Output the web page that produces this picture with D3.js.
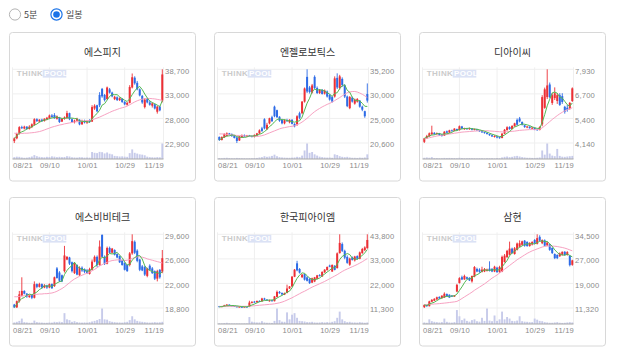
<!DOCTYPE html>
<html><head><meta charset="utf-8">
<script src="https://cdn.jsdelivr.net/npm/d3@7"></script>
<style>
html,body{margin:0;padding:0;background:#fff;}
svg{display:block;}
</style></head><body>
<svg id="c" width="618" height="355"></svg>
<script>
const dates = ["08/21","08/22","08/25","08/26","08/27","08/28","08/29","09/01","09/02","09/03","09/04","09/05","09/08","09/09","09/10","09/11","09/12","09/15","09/16","09/17","09/18","09/19","09/22","09/23","09/24","09/25","09/26","09/29","09/30","10/01","10/02","10/10","10/13","10/14","10/15","10/16","10/17","10/20","10/21","10/22","10/23","10/24","10/27","10/28","10/29","10/30","10/31","11/03","11/04","11/05","11/06","11/07","11/10","11/11","11/12","11/13","11/14","11/17","11/18","11/19"];
const dateTicks = ["08/21","09/10","10/01","10/29","11/19"];
const names = ["에스피지","엔젤로보틱스","디아이씨","에스비비테크","한국피아이엠","삼현"];
const periodOptions = ["5분","일봉"];

// [open, high, low, close]
const spgOHLC = [[23300,24100,22900,23900],[23900,25100,23700,24900],[24900,26500,24700,26300],[26300,26600,25900,26100],[26000,26600,25800,26400],[26400,26500,25700,25900],[25900,26700,25800,26400],[26300,27100,26100,26900],[26800,28200,26600,28000],[28000,28200,27400,27600],
[27500,28000,27300,27900],[27900,28100,27400,27600],[27600,28200,27500,28100],[28000,28500,27800,28300],[28200,29000,28000,28800],[28800,29100,28300,28500],[28900,29300,28100,28200],[28100,28800,27900,28600],[28400,28500,27200,27400],[27500,28300,27400,28100],
[28100,28600,27900,28400],[28200,29800,28100,29300],[29300,29400,27800,28000],[28000,28200,27200,27400],[27400,27900,27100,27700],[27700,28300,27500,28100],[27900,28000,26700,26900],[26900,27900,26800,27600],[27600,27900,27100,27300],[27300,27800,27000,27500],
[27600,28000,27200,27400],[27500,31000,27400,30600],[30300,31200,30000,30900],[31000,31100,29500,29700],[33200,33800,30600,31000],[34500,34700,32600,32900],[33200,33400,31800,32100],[32300,35000,32200,34800],[34400,34700,33500,33700],[33700,33900,32700,32900],
[32300,33000,32100,32800],[32700,32900,31900,32100],[32100,32700,31900,32500],[32400,32500,31500,31700],[31700,31900,31000,31200],[31100,31700,30900,31500],[31500,35300,31400,34900],[34800,37800,34600,37000],[36900,37200,35400,35700],[35800,36200,34200,34400],
[34400,34600,32900,33100],[33000,33200,31300,31600],[30600,32500,30300,32200],[32300,32600,31400,31600],[31600,31900,30900,31100],[30900,31600,30500,31400],[31200,31300,30100,30300],[29600,30900,29200,30700],[30700,30900,29700,29900],[32000,38700,31600,37600]];
const spgVol = [12,15,14,10,8,9,12,16,25,18,14,12,11,14,13,17,15,12,14,12,13,18,16,11,10,9,12,11,9,10,9,45,40,38,46,44,36,42,34,30,20,18,16,17,15,14,38,62,40,35,30,28,24,15,12,11,10,12,11,100];
const spgMA20 = [25000,24950,24950,24950,25000,25000,25050,25100,25150,25250,25350,25500,25700,25900,26100,26300,26450,26600,26750,26850,27000,27100,27200,27300,27400,27450,27500,27550,27650,27700,27750,27900,28050,28250,28450,28700,28950,29200,29450,29700,29900,30100,30300,30450,30600,30800,31100,31400,31700,31950,32150,32300,32400,32450,32450,32400,32350,32250,32150,32050];
const spgTicks = [22900,28000,33000,38700];

const angelOHLC = [[21800,21900,21000,21200],[21200,21900,21100,21800],[21700,22500,21600,22400],[22000,22700,21900,22500],[22500,22600,22100,22200],[22300,22500,21800,22000],[22100,22200,21500,21600],[21700,21800,20600,21000],[21100,22000,21000,21900],[21700,22300,21600,22100],
[22100,22300,21800,21900],[21900,22200,21800,22100],[22100,22200,21900,22000],[22000,22100,21700,21800],[21800,22300,21700,22200],[22100,22600,22000,22500],[22500,23300,22400,23100],[23500,23800,22800,23000],[25300,25500,23300,23500],[23300,24600,23200,24200],
[24500,25600,24300,25500],[25700,26000,24800,24900],[27800,28000,25700,25900],[27100,27200,25600,25700],[25800,25900,24800,25000],[25200,25400,24300,24500],[24500,25300,24300,25100],[25100,25400,24800,25000],[24700,25300,24500,25200],[25200,25300,24300,24400],
[24400,24500,23700,23900],[24300,26100,24000,25900],[26500,26800,25300,25600],[26500,28900,26300,28800],[28800,31600,28600,31400],[33700,35200,30500,30800],[31600,31900,30400,30700],[30600,32300,30400,32000],[33700,34000,31300,31500],[31500,31800,30300,30500],
[30500,31300,30300,31100],[31100,31300,30200,30300],[30400,31200,30200,31000],[30800,31000,29600,29800],[30100,30300,29000,29200],[29700,29900,28600,28800],[29800,33800,29600,33400],[33500,34400,31300,31600],[31500,34100,31200,33800],[33300,33600,31700,32100],
[32000,32200,29500,29800],[29800,30000,27700,27900],[27500,29900,27300,29700],[29600,29800,28600,28800],[28400,29400,28200,29200],[28800,29500,28600,29300],[29000,29100,27600,27800],[27800,28000,26900,27200],[26900,27000,25600,25900],[30300,32400,28600,29000]];
const angelVol = [6,5,7,8,6,5,5,7,6,5,5,4,5,5,6,7,10,12,18,14,16,20,28,18,12,10,9,8,8,9,10,14,12,22,55,100,40,45,30,22,15,12,10,9,10,8,30,26,18,14,12,14,10,8,8,7,9,8,10,30];
const angelMA20 = [22400,22400,22350,22300,22250,22200,22150,22100,22100,22050,22000,22000,21950,21950,21900,21900,21950,22050,22200,22400,22600,22800,23000,23200,23400,23550,23650,23750,23850,23900,24000,24200,24450,24750,25100,25500,25950,26400,26800,27150,27450,27750,28000,28250,28450,28700,29000,29300,29600,29950,30250,30550,30700,30800,30800,30700,30500,30250,29950,29600];
const angelTicks = [20600,25000,30000,35200];

const dicOHLC = [[4200,4400,4140,4380],[4380,4560,4350,4500],[4480,4680,4460,4640],[4600,5030,4550,4680],[4660,4700,4560,4600],[4600,4680,4560,4650],[4640,4660,4500,4540],[4560,4600,4470,4500],[4520,4750,4500,4720],[4740,4780,4640,4670],
[4680,4820,4650,4790],[4790,4830,4740,4760],[4760,4900,4740,4880],[4860,4880,4760,4790],[4800,5040,4780,5000],[4990,5020,4860,4880],[4860,4920,4820,4900],[4900,4920,4820,4850],[4860,4930,4820,4900],[4900,4910,4790,4820],
[4820,4880,4790,4860],[4850,4870,4770,4790],[4790,4800,4720,4740],[4740,4760,4660,4690],[4700,4720,4620,4650],[4650,4690,4580,4610],[4600,4620,4510,4540],[4540,4570,4450,4480],[4460,4540,4420,4500],[4480,4500,4380,4420],
[4440,4470,4360,4400],[4400,4650,4380,4620],[4620,4860,4600,4820],[4800,5000,4780,4950],[4960,5000,4820,4860],[4860,5050,4840,5020],[5000,5180,4980,5150],[5330,5400,5030,5080],[5400,5480,5200,5250],[5220,5250,5040,5080],
[5050,5080,4920,4960],[4940,5010,4900,4990],[4980,5000,4880,4900],[4880,4960,4860,4930],[4920,4940,4800,4840],[4850,4870,4770,4800],[4820,5000,4790,4960],[5100,6600,5000,6500],[5950,6990,5900,6900],[6500,7930,6400,7100],
[7150,7250,6450,6500],[6200,6700,6100,6600],[6450,7000,6350,6700],[6300,6700,6150,6600],[6600,6700,6050,6100],[6550,6700,6150,6250],[6000,6050,5650,5750],[5950,6100,5750,5850],[5900,6250,5850,6200],[6300,7000,6250,6950]];
const dicVol = [8,10,8,12,6,6,5,5,7,6,7,6,6,5,8,6,5,5,6,5,5,4,5,5,4,5,5,5,4,6,5,10,14,16,12,14,18,20,16,12,10,8,8,7,7,8,10,55,28,100,35,22,18,65,20,15,14,16,18,20];
const dicMA20 = [4350,4380,4410,4440,4470,4500,4520,4540,4560,4580,4600,4620,4640,4660,4680,4700,4710,4720,4730,4740,4750,4760,4770,4770,4770,4770,4760,4750,4740,4730,4720,4710,4710,4720,4730,4740,4750,4770,4790,4800,4810,4820,4830,4830,4830,4830,4850,4920,5020,5130,5240,5350,5450,5550,5640,5720,5790,5850,5900,5950];
const dicTicks = [4140,5400,6700,7930];

const sbbOHLC = [[19300,19400,18800,18900],[18900,19900,18800,19800],[19800,21300,19600,20800],[20600,23300,20500,21300],[21300,21400,20800,20900],[20900,21000,20300,20500],[20400,20800,20300,20700],[20700,20800,20100,20300],[20300,22700,20200,22300],[22300,22400,21700,21900],
[21900,22500,21800,22300],[22300,22400,21600,21800],[21800,22300,21700,22100],[22100,22200,21600,21800],[21800,22400,21700,22300],[22300,22400,21600,21700],[22000,23400,21900,23300],[24600,24800,23100,23200],[24000,24200,22600,22800],[23600,23700,22600,22700],
[24200,27900,24000,26500],[25900,26400,25800,26300],[26200,26300,25100,25300],[25500,25600,24000,24200],[23900,25500,23800,25300],[25100,25200,23600,23700],[23600,24900,23500,24700],[24700,24900,24100,24300],[24500,24600,23900,24100],[24300,24500,23800,23900],
[23800,24700,23700,24500],[24400,25900,24300,25600],[25600,26500,25500,26300],[26300,26500,24800,25100],[25100,28700,25000,27800],[29500,29600,26200,26300],[26300,26500,25100,25300],[25300,27800,25200,27600],[27600,27800,26800,26900],[26900,27600,26800,27500],
[27300,27400,26500,26600],[26700,26800,26100,26200],[26400,26500,25400,25500],[25800,25900,25000,25100],[25400,25500,24300,24400],[25100,25200,24100,24200],[25100,27000,24900,26800],[26800,29600,26600,28600],[28500,28700,26700,26900],[27200,27400,25500,25700],
[25900,26000,24200,24400],[24900,25100,24200,24300],[24800,25000,23500,23700],[23500,24700,23300,24600],[25000,25200,24300,24400],[24600,24800,23800,23900],[24200,24300,22900,23100],[23100,24400,22700,24200],[24400,24500,23100,23300],[24150,27300,23900,26100]];
const sbbVol = [10,14,20,35,12,10,8,8,22,12,10,9,8,8,10,9,14,12,15,12,70,30,25,14,18,12,10,9,10,9,12,16,20,25,32,100,30,28,18,14,12,10,10,9,12,14,25,50,30,20,16,14,12,10,9,10,12,10,11,14];
const sbbMA20 = [20450,20450,20500,20550,20600,20650,20700,20750,20800,20800,20850,20850,20900,20900,20950,21000,21100,21250,21450,21650,21900,22200,22500,22800,23050,23250,23450,23600,23750,23900,24050,24250,24450,24700,24950,25150,25350,25500,25650,25750,25800,25850,25850,25800,25750,25800,25900,26050,26200,26300,26300,26250,26150,26000,25900,25800,25700,25600,25500,25400];
const sbbTicks = [18800,22000,26000,29600];

const pimOHLC = [[12100,12200,11700,11800],[11800,12200,11700,12100],[12100,12700,12000,12500],[12500,13000,12400,12800],[12800,12900,12300,12400],[12400,12500,12100,12200],[12200,12300,11900,12000],[12000,12100,11700,11800],[11800,12000,11600,11900],[11900,12000,11300,11700],
[11700,12000,11600,11900],[11900,12000,11700,11800],[11800,14500,11700,13700],[13600,14300,13300,14000],[14100,14400,13600,13800],[13800,14600,13700,14400],[14400,14700,14000,14200],[14200,15800,14100,15500],[15500,15800,14800,15000],[15000,15200,14400,14600],
[14500,15000,14100,14700],[14700,14900,14200,14300],[14300,16600,14200,16400],[16200,19000,16000,18400],[18400,18800,17600,17800],[17900,18200,17000,17300],[17200,18100,17000,17900],[17900,21600,17800,19900],[19900,21000,19700,20800],[20800,25400,20600,25100],
[25100,28500,24900,28200],[31000,32100,27500,27900],[28500,28900,26500,26900],[24900,26300,24500,26000],[26200,26500,23400,23800],[24800,25300,23000,23300],[24100,24500,21900,22300],[22500,24700,22300,24400],[23000,25000,22700,24800],[24200,25900,23900,25700],
[25800,26200,25200,25400],[25200,27500,25000,27200],[27000,28400,26800,28200],[28000,29600,27800,29400],[30000,30400,29300,29500],[27400,30500,27200,30300],[29900,30200,27900,28100],[28900,35800,28700,35400],[35500,43800,35300,40000],[39500,40200,36000,36500],
[36500,37000,32800,33500],[33800,34500,30800,31200],[30400,33500,29900,33100],[33600,34000,32200,32500],[32300,34300,31800,34000],[34200,34500,32600,33000],[33000,36200,32800,35800],[35500,37800,35200,37300],[36800,38500,36400,38000],[37700,43800,37400,41300]];
const pimVol = [5,4,6,8,5,4,4,4,4,3,4,4,45,15,12,10,10,18,10,8,8,7,20,100,25,15,14,75,30,60,70,40,20,18,16,12,12,14,10,9,10,12,10,12,10,14,18,40,80,30,18,12,14,10,10,9,12,10,8,10];
const pimMA20 = [12000,12000,12000,12000,12050,12050,12050,12050,12050,12050,12050,12050,12100,12200,12300,12400,12500,12600,12700,12800,12900,13000,13150,13350,13600,13900,14300,14800,15300,15800,16400,17000,17600,18200,18700,19300,19900,20500,21000,21500,22000,22500,23000,23600,24200,24800,25400,26000,26700,27400,28000,28500,29000,29500,30000,30500,31100,31700,32400,33100];
const pimTicks = [11300,22000,33000,43800];

const shOHLC = [[11600,12400,11320,12300],[12300,12400,11700,11900],[11900,13600,11800,13400],[13300,14100,13200,13900],[13600,14400,13500,14200],[14000,14900,13900,14700],[14800,15000,14200,14300],[14400,15300,14300,15200],[14600,16230,14500,15800],[15700,15900,14900,15000],
[15500,15600,14500,14600],[15200,15400,14800,14900],[14900,15400,14800,15300],[16500,18900,16300,18600],[19200,21000,19000,20700],[21000,21500,20100,20300],[20300,21800,20200,21400],[21000,21200,20300,20500],[20800,21000,19800,20000],[19700,21500,19300,21400],
[21200,24500,21000,24200],[23600,24000,22600,22800],[23400,23800,22400,22700],[22700,24300,22500,23400],[22800,23900,22600,23600],[23000,23700,22800,23400],[23700,26000,22800,23000],[23600,23900,22600,22800],[22800,24600,22600,24300],[24000,24300,22400,22600],
[22600,24600,22400,24200],[22800,27800,22600,27400],[25800,28300,25600,27800],[27300,29600,27100,29300],[28100,32200,27900,30000],[30000,30300,28400,28600],[28300,30500,28100,30100],[29600,31900,29400,31600],[30600,32600,30400,31700],[31200,32500,30900,32300],
[32500,32700,30600,30900],[32100,32300,30600,30800],[30800,32000,30600,31800],[31300,32300,31000,32100],[32700,33000,31400,31600],[31500,34500,31300,33300],[33700,34200,32300,32500],[31700,32900,31400,32700],[32600,32900,30700,30900],[31000,32200,30800,31900],
[31300,31500,29300,29600],[30200,30400,28300,28600],[28300,28500,26700,27000],[28000,28200,26700,27000],[27600,28800,27400,28500],[28000,29100,27800,29000],[29000,29200,27800,28000],[28000,29200,27800,28900],[27700,28000,24400,24800],[24900,26500,24600,26300]];
const shVol = [10,8,30,18,14,12,10,12,35,14,10,9,12,90,50,25,35,20,15,25,30,18,15,40,20,100,22,18,55,20,30,80,30,45,35,20,18,22,50,18,15,14,12,12,35,28,20,18,12,10,8,8,10,12,8,7,8,10,12,10];
const shMA20 = [12370,12420,12470,12520,12580,12640,12700,12780,12860,12950,13050,13150,13250,13400,13800,14300,14800,15300,15800,16300,16900,17400,17900,18400,18900,19500,20100,20700,21200,21700,22300,22900,23500,24100,24700,25300,25900,26500,27000,27500,28000,28500,28900,29300,29600,29900,30200,30500,30700,30800,30800,30800,30750,30650,30500,30350,30150,29900,29600,29300];
const shTicks = [11320,19000,27000,34500];

const stocks = [
  {name:names[0], ohlc:spgOHLC, vol:spgVol, ma20:spgMA20, ticks:spgTicks},
  {name:names[1], ohlc:angelOHLC, vol:angelVol, ma20:angelMA20, ticks:angelTicks},
  {name:names[2], ohlc:dicOHLC, vol:dicVol, ma20:dicMA20, ticks:dicTicks},
  {name:names[3], ohlc:sbbOHLC, vol:sbbVol, ma20:sbbMA20, ticks:sbbTicks},
  {name:names[4], ohlc:pimOHLC, vol:pimVol, ma20:pimMA20, ticks:pimTicks},
  {name:names[5], ohlc:shOHLC, vol:shVol, ma20:shMA20, ticks:shTicks}
];

const UP = "#ec2f35", DOWN = "#2d6be6", MA5C = "#53b853", MA20C = "#f7a2c2", VOLC = "#c7cbea", GRID = "#efefef";
const svg = d3.select("#c");

// radio buttons
const radio = svg.append("g");
radio.append("circle").attr("cx",15).attr("cy",14.5).attr("r",5.6).attr("fill","#fff").attr("stroke","#b3b3b3").attr("stroke-width",1);
radio.append("text").attr("x",24).attr("y",18).attr("font-size",9).attr("fill","#444").attr("font-family","'Noto Sans CJK KR','Noto Sans',sans-serif").text(periodOptions[0]);
radio.append("circle").attr("cx",56.5).attr("cy",14.5).attr("r",5.6).attr("fill","#fff").attr("stroke","#1a73e8").attr("stroke-width",1.2);
radio.append("circle").attr("cx",56.5).attr("cy",14.5).attr("r",3.3).attr("fill","#1a73e8");
radio.append("text").attr("x",66).attr("y",18).attr("font-size",9).attr("fill","#444").attr("font-family","'Noto Sans CJK KR','Noto Sans',sans-serif").text(periodOptions[1]);

const CW = 186, CH = 148.5;
const numFont = "'Liberation Sans Narrow','Liberation Sans',sans-serif";

stocks.forEach((s, k) => {
  const cx = 9.5 + (k % 3) * 205;
  const cy = 32.5 + Math.floor(k / 3) * 165;
  const g = svg.append("g");

  g.append("rect").attr("x",cx).attr("y",cy).attr("width",CW).attr("height",CH).attr("rx",3)
    .attr("fill","#fff").attr("stroke","#d8d8d8");

  g.append("text").attr("x",cx+93).attr("y",cy+23.2).attr("text-anchor","middle")
    .attr("font-size",10).attr("fill","#333").attr("font-family","'Noto Sans CJK KR',sans-serif").text(s.name);

  const left = cx+3, right = cx+154;
  const pTop = cy+36.8, pBot = cy+110.5, vBase = cy+126.5, vTop = cy+111;
  const x = d3.scalePoint().domain(dates).range([cx+4.8, cx+152.8]);
  const lo = s.ticks[0], hi = s.ticks[s.ticks.length-1];
  const y = d3.scaleLinear().domain([lo, hi]).range([pBot, pTop]);
  const yv = d3.scaleLinear().domain([0, d3.max(s.vol)]).range([vBase, vTop]);
  const tickPos = s.ticks.map((t,i) => lo + i*(hi-lo)/(s.ticks.length-1));

  // grid
  g.append("g").selectAll("line").data(tickPos).join("line")
    .attr("x1",left).attr("x2",right).attr("y1",d=>y(d)).attr("y2",d=>y(d))
    .attr("stroke",GRID).attr("stroke-width",1);
  const vx = [left].concat(dateTicks.slice(1,4).map(d=>x(d))).concat([right]);
  g.append("g").selectAll("line").data(vx).join("line")
    .attr("x1",d=>d).attr("x2",d=>d).attr("y1",pTop-2).attr("y2",vBase)
    .attr("stroke",GRID).attr("stroke-width",1);

  // watermark
  const wm = g.append("g");
  wm.append("text").attr("x",cx+7.3).attr("y",cy+43.8).attr("font-size",8).attr("font-weight","bold")
    .attr("letter-spacing",0.4).attr("fill","#cbcbcb").attr("font-family","'Liberation Sans',sans-serif").text("THINK");
  wm.append("rect").attr("x",cx+33.2).attr("y",cy+37.3).attr("width",23.6).attr("height",7.8).attr("fill","#dbe2f5");
  wm.append("text").attr("x",cx+34.5).attr("y",cy+43.8).attr("font-size",8).attr("font-weight","bold")
    .attr("letter-spacing",0.3).attr("fill","#fff").attr("font-family","'Liberation Sans',sans-serif").text("POOL");

  // volume
  g.append("g").selectAll("rect").data(s.vol).join("rect")
    .attr("x",(d,i)=>x(dates[i])-0.95).attr("width",1.9)
    .attr("y",d=>yv(d)).attr("height",d=>vBase-yv(d)).attr("fill",VOLC);
  g.append("line").attr("x1",left).attr("x2",right).attr("y1",vBase).attr("y2",vBase).attr("stroke","#a9a9a9");

  // candles
  const cg = g.append("g");
  cg.selectAll("line").data(s.ohlc).join("line")
    .attr("x1",(d,i)=>x(dates[i])).attr("x2",(d,i)=>x(dates[i]))
    .attr("y1",d=>y(d[1])).attr("y2",d=>y(d[2]))
    .attr("stroke",d=>d[3]>=d[0]?UP:DOWN).attr("stroke-width",0.9);
  cg.selectAll("rect").data(s.ohlc).join("rect")
    .attr("x",(d,i)=>x(dates[i])-1).attr("width",2)
    .attr("y",d=>y(Math.max(d[0],d[3])))
    .attr("height",d=>Math.max(1,Math.abs(y(d[0])-y(d[3]))))
    .attr("fill",d=>d[3]>=d[0]?UP:DOWN);

  // moving averages
  const closes = s.ohlc.map(d=>d[3]);
  const ma5 = closes.map((c,i)=>d3.mean(closes.slice(Math.max(0,i-4), i+1)));
  const line = d3.line().x((d,i)=>x(dates[i])).y(d=>y(d));
  g.append("path").attr("d",line(s.ma20)).attr("fill","none").attr("stroke",MA20C).attr("stroke-width",1);
  g.append("path").attr("d",line(ma5)).attr("fill","none").attr("stroke",MA5C).attr("stroke-width",1);

  // price axis
  const fmt = d3.format(",");
  const ya = d3.axisRight(y).tickValues(tickPos).tickSize(0).tickPadding(0)
    .tickFormat((d,i)=>fmt(s.ticks[i]));
  const yg = g.append("g").attr("transform",`translate(${cx+155.5},0)`).call(ya);
  yg.select(".domain").remove();
  yg.selectAll("text").attr("font-size",7.6).attr("fill","#8a8a8a").attr("font-family",numFont)
    .attr("dy","0.5em").attr("letter-spacing",0.2);

  // date axis
  const xa = d3.axisBottom(x).tickValues(dateTicks).tickSize(0).tickPadding(0);
  const xg = g.append("g").attr("transform",`translate(0,${vBase})`).call(xa);
  xg.select(".domain").remove();
  xg.selectAll("text").attr("font-size",7.6).attr("fill","#8a8a8a").attr("font-family",numFont)
    .attr("y",9.4).attr("dy",0).attr("letter-spacing",0.2)
    .attr("text-anchor",(d,i)=> i===0 ? "start" : (i===dateTicks.length-1 ? "end" : "middle"))
    .attr("dx",(d,i)=> i===0 ? (left - x(d)) : (i===dateTicks.length-1 ? (right - x(d)) : 0));
});
</script>
</body></html>
